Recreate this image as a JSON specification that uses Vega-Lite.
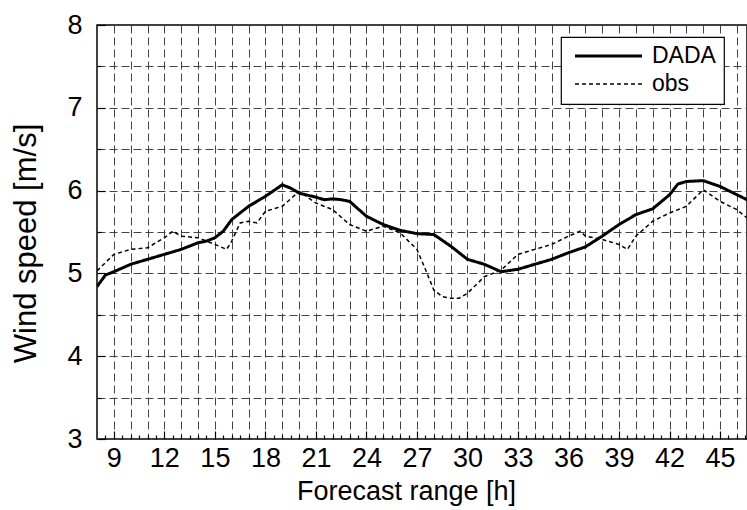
{
  "$schema": "https://vega.github.io/schema/vega-lite/v6.json",
  "width": 650,
  "height": 414,
  "autosize": {"type": "none"},
  "padding": {"left": 97, "top": 25, "right": 0, "bottom": 71},
  "background": "white",
  "config": {
    "font": "Liberation Sans",
    "view": {"stroke": "black", "strokeWidth": 1.5},
    "axis": {"domain": false, "labelColor": "black", "titleColor": "black", "titleFontWeight": "normal", "tickColor": "black", "gridColor": "#444", "gridDash": [8, 4], "gridWidth": 1, "gridOpacity": 1},
    "legend": {"symbolType": "M-3.5,0H3.5", "symbolSize": 366, "symbolOffset": 28.5, "symbolStrokeColor": "black", "labelFontSize": 23, "labelColor": "black", "labelOffset": 32, "padding": 7.5, "rowPadding": 4, "strokeColor": "black", "strokeWidth": 1.2, "fillColor": "white", "cornerRadius": 0}
  },
  "data": {
    "values": [
      {"h": 8, "v": 4.84, "s": "DADA"},
      {"h": 8.5, "v": 4.98, "s": "DADA"},
      {"h": 9, "v": 5.02, "s": "DADA"},
      {"h": 10, "v": 5.11, "s": "DADA"},
      {"h": 11, "v": 5.17, "s": "DADA"},
      {"h": 12, "v": 5.23, "s": "DADA"},
      {"h": 13, "v": 5.29, "s": "DADA"},
      {"h": 14, "v": 5.37, "s": "DADA"},
      {"h": 14.5, "v": 5.39, "s": "DADA"},
      {"h": 15, "v": 5.43, "s": "DADA"},
      {"h": 15.5, "v": 5.51, "s": "DADA"},
      {"h": 16, "v": 5.65, "s": "DADA"},
      {"h": 17, "v": 5.81, "s": "DADA"},
      {"h": 18, "v": 5.93, "s": "DADA"},
      {"h": 19, "v": 6.07, "s": "DADA"},
      {"h": 19.5, "v": 6.03, "s": "DADA"},
      {"h": 20, "v": 5.97, "s": "DADA"},
      {"h": 21, "v": 5.92, "s": "DADA"},
      {"h": 21.5, "v": 5.89, "s": "DADA"},
      {"h": 22, "v": 5.9, "s": "DADA"},
      {"h": 22.5, "v": 5.89, "s": "DADA"},
      {"h": 23, "v": 5.87, "s": "DADA"},
      {"h": 23.5, "v": 5.78, "s": "DADA"},
      {"h": 24, "v": 5.69, "s": "DADA"},
      {"h": 25, "v": 5.59, "s": "DADA"},
      {"h": 26, "v": 5.52, "s": "DADA"},
      {"h": 27, "v": 5.48, "s": "DADA"},
      {"h": 28, "v": 5.47, "s": "DADA"},
      {"h": 29, "v": 5.33, "s": "DADA"},
      {"h": 30, "v": 5.17, "s": "DADA"},
      {"h": 31, "v": 5.11, "s": "DADA"},
      {"h": 32, "v": 5.02, "s": "DADA"},
      {"h": 33, "v": 5.05, "s": "DADA"},
      {"h": 34, "v": 5.11, "s": "DADA"},
      {"h": 35, "v": 5.17, "s": "DADA"},
      {"h": 36, "v": 5.25, "s": "DADA"},
      {"h": 37, "v": 5.32, "s": "DADA"},
      {"h": 38, "v": 5.45, "s": "DADA"},
      {"h": 39, "v": 5.59, "s": "DADA"},
      {"h": 40, "v": 5.71, "s": "DADA"},
      {"h": 41, "v": 5.78, "s": "DADA"},
      {"h": 42, "v": 5.95, "s": "DADA"},
      {"h": 42.5, "v": 6.08, "s": "DADA"},
      {"h": 43, "v": 6.11, "s": "DADA"},
      {"h": 44, "v": 6.12, "s": "DADA"},
      {"h": 45, "v": 6.05, "s": "DADA"},
      {"h": 46, "v": 5.95, "s": "DADA"},
      {"h": 46.6, "v": 5.89, "s": "DADA"},
      {"h": 8, "v": 5.03, "s": "obs"},
      {"h": 9, "v": 5.23, "s": "obs"},
      {"h": 10, "v": 5.29, "s": "obs"},
      {"h": 11, "v": 5.31, "s": "obs"},
      {"h": 12, "v": 5.43, "s": "obs"},
      {"h": 12.5, "v": 5.51, "s": "obs"},
      {"h": 13, "v": 5.45, "s": "obs"},
      {"h": 14, "v": 5.43, "s": "obs"},
      {"h": 15, "v": 5.35, "s": "obs"},
      {"h": 15.7, "v": 5.29, "s": "obs"},
      {"h": 16, "v": 5.39, "s": "obs"},
      {"h": 16.5, "v": 5.61, "s": "obs"},
      {"h": 17, "v": 5.63, "s": "obs"},
      {"h": 17.5, "v": 5.61, "s": "obs"},
      {"h": 18, "v": 5.75, "s": "obs"},
      {"h": 19, "v": 5.81, "s": "obs"},
      {"h": 20, "v": 5.99, "s": "obs"},
      {"h": 21, "v": 5.85, "s": "obs"},
      {"h": 22, "v": 5.77, "s": "obs"},
      {"h": 23, "v": 5.59, "s": "obs"},
      {"h": 24, "v": 5.51, "s": "obs"},
      {"h": 25, "v": 5.57, "s": "obs"},
      {"h": 26, "v": 5.49, "s": "obs"},
      {"h": 27, "v": 5.29, "s": "obs"},
      {"h": 27.5, "v": 5.05, "s": "obs"},
      {"h": 28, "v": 4.8, "s": "obs"},
      {"h": 28.5, "v": 4.72, "s": "obs"},
      {"h": 29, "v": 4.7, "s": "obs"},
      {"h": 29.5, "v": 4.7, "s": "obs"},
      {"h": 30, "v": 4.76, "s": "obs"},
      {"h": 31, "v": 4.96, "s": "obs"},
      {"h": 32, "v": 5.04, "s": "obs"},
      {"h": 33, "v": 5.23, "s": "obs"},
      {"h": 34, "v": 5.29, "s": "obs"},
      {"h": 35, "v": 5.35, "s": "obs"},
      {"h": 36, "v": 5.45, "s": "obs"},
      {"h": 36.7, "v": 5.51, "s": "obs"},
      {"h": 37, "v": 5.45, "s": "obs"},
      {"h": 38, "v": 5.41, "s": "obs"},
      {"h": 39, "v": 5.35, "s": "obs"},
      {"h": 39.5, "v": 5.29, "s": "obs"},
      {"h": 40, "v": 5.45, "s": "obs"},
      {"h": 41, "v": 5.63, "s": "obs"},
      {"h": 42, "v": 5.73, "s": "obs"},
      {"h": 43, "v": 5.81, "s": "obs"},
      {"h": 44, "v": 6.01, "s": "obs"},
      {"h": 45, "v": 5.87, "s": "obs"},
      {"h": 46, "v": 5.77, "s": "obs"},
      {"h": 46.6, "v": 5.67, "s": "obs"}
    ]
  },
  "resolve": {"axis": {"x": "independent", "y": "independent"}},
  "layer": [
    {
      "mark": {"type": "line", "color": "black", "clip": true},
      "encoding": {
        "x": {"field": "h", "type": "quantitative", "scale": {"domain": [8, 46.6], "nice": false, "zero": false},
          "axis": {"orient": "bottom", "values": [8,9,10,11,12,13,14,15,16,17,18,19,20,21,22,23,24,25,26,27,28,29,30,31,32,33,34,35,36,37,38,39,40,41,42,43,44,45,46], "grid": true, "labels": false, "ticks": false, "title": null}},
        "y": {"field": "v", "type": "quantitative", "scale": {"domain": [3, 8], "nice": false, "zero": false},
          "axis": {"orient": "left", "values": [3,3.5,4,4.5,5,5.5,6,6.5,7,7.5,8], "grid": true, "labels": false, "ticks": false, "title": null}},
        "strokeDash": {"field": "s", "type": "nominal", "scale": {"domain": ["DADA", "obs"], "range": [[1, 0], [4, 3]]}, "legend": {"title": null, "orient": "none", "legendX": 464, "legendY": 12, "labelExpr": "datum.label + '  '"}},
        "strokeWidth": {"field": "s", "type": "nominal", "scale": {"type": "ordinal", "domain": ["DADA", "obs"], "range": [3, 1.5]}, "legend": {"title": null, "orient": "none", "legendX": 464, "legendY": 12, "labelExpr": "datum.label + '  '"}}
      }
    },
    {
      "mark": {"type": "point", "opacity": 0},
      "encoding": {
        "x": {"field": "h", "type": "quantitative",
          "axis": {"orient": "bottom", "values": [9,12,15,18,21,24,27,30,33,36,39,42,45], "grid": false, "ticks": false, "labels": true, "labelFontSize": 27, "labelPadding": 6, "labelDx": 5, "labelBaseline": "top", "labelOverlap": false, "labelFlush": false, "title": "Forecast range [h]", "titleFontSize": 27, "titleX": 309, "titleY": 60, "titleBaseline": "alphabetic"}},
        "y": {"field": "v", "type": "quantitative",
          "axis": {"orient": "left", "values": [3,4,5,6,7,8], "grid": false, "ticks": false, "labels": true, "labelFontSize": 27, "labelPadding": 15, "labelOverlap": false, "labelFlush": false, "title": "Wind speed [m/s]", "titleFontSize": 31, "titleX": -62, "titleY": 218, "titleAngle": -90, "titleBaseline": "alphabetic"}}
      }
    },
    {
      "mark": {"type": "point", "opacity": 0},
      "encoding": {
        "x": {"field": "h", "type": "quantitative",
          "axis": {"orient": "bottom", "values": [9,12,15,18,21,24,27,30,33,36,39,42,45], "grid": false, "ticks": true, "tickSize": -8, "tickWidth": 1.2, "labels": false, "title": null}},
        "y": {"field": "v", "type": "quantitative",
          "axis": {"orient": "left", "values": [3,4,5,6,7,8], "grid": false, "ticks": true, "tickSize": -8, "tickWidth": 1.2, "labels": false, "title": null}}
      }
    },
    {
      "mark": {"type": "point", "opacity": 0},
      "encoding": {
        "x": {"field": "h", "type": "quantitative",
          "axis": {"orient": "bottom", "values": [8.5,9.5,10,10.5,11,11.5,12.5,13,13.5,14,14.5,15.5,16,16.5,17,17.5,18.5,19,19.5,20,20.5,21.5,22,22.5,23,23.5,24.5,25,25.5,26,26.5,27.5,28,28.5,29,29.5,30.5,31,31.5,32,32.5,33.5,34,34.5,35,35.5,36.5,37,37.5,38,38.5,39.5,40,40.5,41,41.5,42.5,43,43.5,44,44.5,45.5,46,46.5], "grid": false, "ticks": true, "tickSize": -4, "tickWidth": 1.2, "labels": false, "title": null}},
        "y": {"field": "v", "type": "quantitative",
          "axis": {"orient": "left", "values": [3.5,4.5,5.5,6.5,7.5], "grid": false, "ticks": true, "tickSize": -4, "tickWidth": 1.2, "labels": false, "title": null}}
      }
    }
  ]
}
